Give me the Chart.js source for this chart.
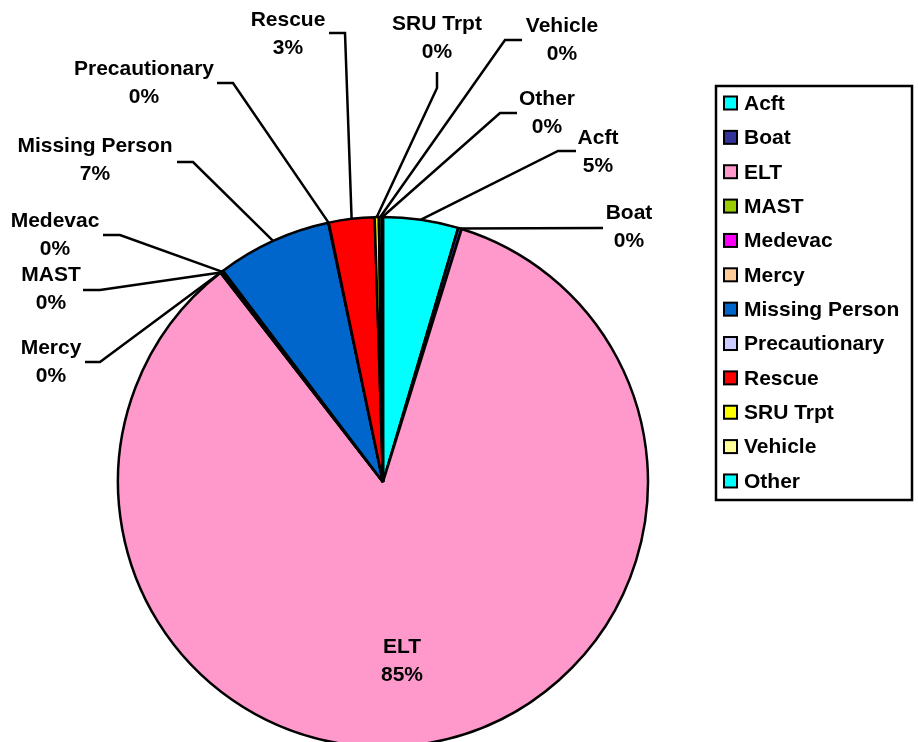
<!DOCTYPE html>
<html>
<head>
<meta charset="utf-8">
<style>
  html, body { margin: 0; padding: 0; background: #fff; overflow: hidden; }
  #wrap { width: 918px; height: 742px; }
</style>
<script src="https://cdn.jsdelivr.net/npm/chart.js@4.4.1/dist/chart.umd.min.js"></script>
</head>
<body>
<div id="wrap"><canvas id="pie" width="918" height="742"></canvas></div>
<script>
// --- data (percent of all cases) ---
const categories = ["Acft", "Boat", "ELT", "MAST", "Medevac", "Mercy", "Missing Person",
                    "Precautionary", "Rescue", "SRU Trpt", "Vehicle", "Other"];
const shares = [4.58, 0.22, 84.72, 0.03, 0.14, 0.03, 7.0, 0.03, 2.78, 0.25, 0.17, 0.08];
const sliceColors = ["#00FFFF", "#333399", "#FF99CC", "#99CC00", "#FF00FF", "#FFCC99",
                     "#0066CC", "#CCCCFF", "#FF0000", "#FFFF00", "#FFFF99", "#00FFFF"];

// where each data label sits, and the elbow of its leader line
const labelSpots = [
    { x: 598, y: 138, from: [576, 151], elbow: [558, 151] },   // Acft
    { x: 629, y: 213, from: [603, 228], elbow: [603, 228] },   // Boat
    { x: 402, y: 647, inside: true },                          // ELT
    { x: 51,  y: 275, from: [83, 290],  elbow: [100, 290] },   // MAST
    { x: 55,  y: 221, from: [103, 235], elbow: [120, 235] },   // Medevac
    { x: 51,  y: 348, from: [85, 362],  elbow: [100, 362] },   // Mercy
    { x: 95,  y: 146, from: [177, 162], elbow: [193, 162] },   // Missing Person
    { x: 144, y: 69,  from: [217, 83],  elbow: [233, 83] },    // Precautionary
    { x: 288, y: 20,  from: [329, 33],  elbow: [345, 33] },    // Rescue
    { x: 437, y: 24,  from: [437, 72],  elbow: [437, 88] },    // SRU Trpt
    { x: 562, y: 26,  from: [522, 40],  elbow: [505, 40] },    // Vehicle
    { x: 547, y: 99,  from: [517, 113], elbow: [500, 113] }    // Other
];

const FONT = 'bold 21px "Liberation Sans", Arial, sans-serif';

// labels with leader lines, Excel style
const pieLabels = {
    id: "pieLabels",
    afterDatasetsDraw(chart) {
        const ctx = chart.ctx;
        const arcs = chart.getDatasetMeta(0).data;
        const total = shares.reduce((a, b) => a + b, 0);
        ctx.save();
        ctx.font = FONT;
        ctx.textAlign = "center";
        ctx.textBaseline = "middle";
        ctx.strokeStyle = "#000";
        ctx.lineWidth = 2.5;
        ctx.lineJoin = "miter";
        arcs.forEach((arc, i) => {
            const spot = labelSpots[i];
            const pct = Math.round(shares[i] / total * 100) + "%";
            if (!spot.inside) {
                const mid = (arc.startAngle + arc.endAngle) / 2;
                const ax = arc.x + Math.cos(mid) * arc.outerRadius;
                const ay = arc.y + Math.sin(mid) * arc.outerRadius;
                ctx.beginPath();
                ctx.moveTo(spot.from[0], spot.from[1]);
                ctx.lineTo(spot.elbow[0], spot.elbow[1]);
                ctx.lineTo(ax, ay);
                ctx.stroke();
            }
            ctx.fillStyle = "#000";
            ctx.fillText(categories[i], spot.x, spot.y);
            ctx.fillText(pct, spot.x, spot.y + 28);
        });
        ctx.restore();
    }
};

// boxed legend on the right
const boxLegend = {
    id: "boxLegend",
    afterDraw(chart) {
        const ctx = chart.ctx;
        ctx.save();
        ctx.lineWidth = 2.5;
        ctx.strokeStyle = "#000";
        ctx.strokeRect(716, 86, 196, 414);
        ctx.font = FONT;
        ctx.textBaseline = "middle";
        ctx.textAlign = "left";
        categories.forEach((name, i) => {
            const y = 103 + i * 34.36;
            ctx.fillStyle = sliceColors[i];
            ctx.fillRect(724, y - 6.5, 13, 13);
            ctx.lineWidth = 2;
            ctx.strokeRect(724, y - 6.5, 13, 13);
            ctx.fillStyle = "#000";
            ctx.fillText(name, 744, y + 1);
        });
        ctx.restore();
    }
};

new Chart(document.getElementById("pie"), {
    type: "pie",
    data: {
        labels: categories,
        datasets: [{
            data: shares,
            backgroundColor: sliceColors,
            borderColor: "#000",
            borderWidth: 2.5,
            clip: false
        }]
    },
    options: {
        responsive: false,
        animation: false,
        devicePixelRatio: 1,
        radius: 265,
        layout: { padding: { left: 0, right: 152, top: 222, bottom: 0 } },
        plugins: {
            legend: { display: false },
            tooltip: { enabled: false }
        }
    },
    plugins: [pieLabels, boxLegend]
});
</script>
</body>
</html>
